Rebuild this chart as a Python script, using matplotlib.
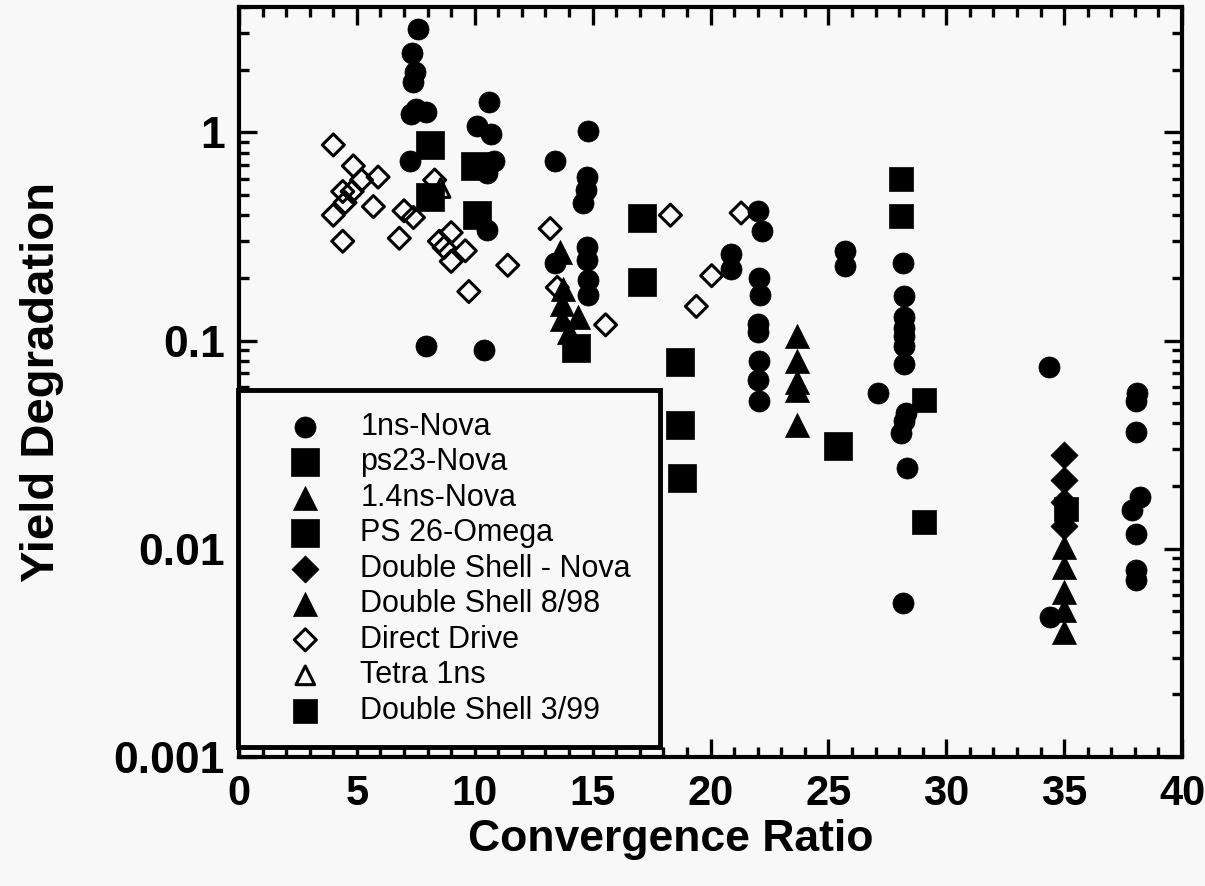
import matplotlib
matplotlib.use('Agg')
import matplotlib.pyplot as plt
from matplotlib.ticker import MultipleLocator, LogLocator, NullFormatter

plt.rcParams['font.family'] = ['Liberation Sans', 'DejaVu Sans']

# ---------------- data ----------------
cr_1ns_nova = [7.6, 7.35, 7.45, 7.4, 7.5, 7.3, 7.95, 7.25, 7.95,
               10.6, 10.1, 10.7, 10.8, 10.5, 10.5, 10.4,
               13.4, 13.4, 14.8, 14.75, 14.7, 14.6, 14.75, 14.75, 14.8, 14.8,
               20.85, 20.85, 22.0, 22.2, 22.05, 22.1, 22.0, 22.0, 22.05, 22.0, 22.05,
               25.7, 25.7, 27.1,
               28.15, 28.2, 28.2, 28.2, 28.2, 28.2, 28.2, 28.3, 28.2, 28.1, 28.35, 28.15,
               34.35, 34.4,
               38.1, 38.05, 38.05, 38.2, 37.9, 38.05, 38.05, 38.05]
yd_1ns_nova = [3.15, 2.4, 1.95, 1.75, 1.3, 1.22, 1.25, 0.73, 0.094,
               1.4, 1.07, 0.98, 0.73, 0.64, 0.34, 0.09,
               0.73, 0.235, 1.02, 0.61, 0.53, 0.46, 0.28, 0.245, 0.195, 0.165,
               0.26, 0.22, 0.42, 0.335, 0.20, 0.165, 0.12, 0.11, 0.08, 0.065, 0.051,
               0.27, 0.228, 0.056,
               0.237, 0.163, 0.13, 0.115, 0.105, 0.094, 0.077, 0.045, 0.041, 0.036, 0.0245, 0.0055,
               0.075, 0.0047,
               0.056, 0.051, 0.0365, 0.0178, 0.0154, 0.0118, 0.0079, 0.0071]

cr_ps23_nova = [8.1, 8.1, 10.0, 10.1, 14.3]
yd_ps23_nova = [0.87, 0.49, 0.69, 0.40, 0.092]

cr_14ns_nova = [13.6, 13.75, 13.7, 13.7, 14.0, 14.4, 23.65, 23.65, 23.65, 23.65, 23.65]
yd_14ns_nova = [0.265, 0.176, 0.15, 0.127, 0.11, 0.13, 0.105, 0.08, 0.063, 0.058, 0.0395]

cr_ps26_omega = [17.1, 17.1, 18.7, 18.7, 18.8, 25.4]
yd_ps26_omega = [0.39, 0.192, 0.079, 0.0394, 0.0218, 0.031]

cr_ds_nova = [35.0, 35.0, 35.0, 35.0]
yd_ds_nova = [0.0283, 0.0213, 0.0168, 0.0128]

cr_ds_898 = [35.0, 35.0, 35.0, 35.0, 35.0]
yd_ds_898 = [0.0102, 0.0082, 0.0062, 0.0051, 0.0040]

cr_direct = [4.0, 4.85, 5.2, 5.9, 4.4, 4.8, 4.5, 4.0, 5.7, 4.4,
             7.0, 7.4, 6.8, 8.3, 9.0, 8.5, 8.7, 9.6, 9.0, 11.4, 9.75,
             13.2, 13.5, 15.55, 18.3, 19.4, 20.05, 21.3]
yd_direct = [0.87, 0.69, 0.59, 0.61, 0.52, 0.52, 0.46, 0.40, 0.44, 0.30,
             0.42, 0.39, 0.31, 0.59, 0.33, 0.30, 0.28, 0.27, 0.24, 0.23, 0.172,
             0.345, 0.18, 0.119, 0.40, 0.146, 0.205, 0.41]

cr_tetra = [8.55]
yd_tetra = [0.54]

cr_ds_399 = [28.1, 28.1, 29.05, 29.05, 35.1]
yd_ds_399 = [0.60, 0.395, 0.052, 0.0134, 0.0155]

series_labels = ['1ns-Nova', 'ps23-Nova', '1.4ns-Nova', 'PS 26-Omega',
                 'Double Shell - Nova', 'Double Shell 8/98', 'Direct Drive',
                 'Tetra 1ns', 'Double Shell 3/99']

xtick_vals = [0, 5, 10, 15, 20, 25, 30, 35, 40]
ytick_vals = [0.001, 0.01, 0.1, 1]
ytick_labels = ['0.001', '0.01', '0.1', '1']

# ---------------- figure ----------------
BG = '#f8f8f8'
fig = plt.figure(figsize=(12.05, 8.86), dpi=100)
fig.patch.set_facecolor(BG)
ax = fig.add_axes([239 / 1205, 1 - 757 / 886, (1182 - 239) / 1205, (757 - 7) / 886])
ax.set_facecolor(BG)
ax.set_yscale('log')
ax.set_xlim(0, 40)
ax.set_ylim(0.001, 4)

styles = [
    (cr_1ns_nova, yd_1ns_nova, 'o', 230, 'black', 0.5),
    (cr_ps23_nova, yd_ps23_nova, 's', 430, 'black', 0.5),
    (cr_14ns_nova, yd_14ns_nova, '^', 300, 'black', 0.5),
    (cr_ps26_omega, yd_ps26_omega, 's', 430, 'black', 0.5),
    (cr_ds_nova, yd_ds_nova, 'D', 190, 'black', 0.5),
    (cr_ds_898, yd_ds_898, '^', 300, 'black', 0.5),
    (cr_direct, yd_direct, 'D', 125, 'none', 2.2),
    (cr_tetra, yd_tetra, '^', 180, 'none', 2.2),
    (cr_ds_399, yd_ds_399, 's', 290, 'black', 0.5),
]
for lab, (xs, ys, mk, sz, fc, lw) in zip(series_labels, styles):
    ax.scatter(xs, ys, s=sz, marker=mk, facecolors=fc, edgecolors='black',
               linewidths=lw, label=lab, zorder=3)

# ticks
ax.set_xticks(xtick_vals)
ax.xaxis.set_minor_locator(MultipleLocator(1))
ax.set_yticks(ytick_vals, ytick_labels)
ax.yaxis.set_minor_locator(LogLocator(base=10, subs=range(2, 10), numticks=20))
ax.yaxis.set_minor_formatter(NullFormatter())
ax.tick_params(which='both', direction='in', top=True, right=True, width=2.4, color='black')
ax.tick_params(which='major', length=13)
ax.tick_params(axis='x', which='major', labelsize=30, pad=12)
ax.tick_params(axis='y', which='major', labelsize=32, pad=10)
ax.tick_params(which='minor', length=7)
for lbl in ax.get_xticklabels() + ax.get_yticklabels():
    lbl.set_fontweight('bold')
for sp in ax.spines.values():
    sp.set_linewidth(3)

ax.set_xlabel('Convergence Ratio', fontsize=32, fontweight='bold')
ax.xaxis.set_label_coords(0.458, -0.082)
ax.set_ylabel('Yield Degradation', fontsize=34, fontweight='bold')
ax.yaxis.set_label_coords(-0.186, 0.5)

leg = ax.legend(loc='lower left', bbox_to_anchor=(-0.001, 0.013, (660 - 238) / 943, 0.4),
                mode='expand', fontsize=22,
                frameon=True, fancybox=False, edgecolor='black', framealpha=1,
                facecolor=BG, borderpad=0.7, handlelength=3.0, handletextpad=0.3,
                labelspacing=0.18, scatterpoints=1, borderaxespad=0)
leg.get_frame().set_linewidth(3.5)
leg.set_zorder(5)

fig.savefig('out.png', dpi=100, facecolor=fig.get_facecolor())
